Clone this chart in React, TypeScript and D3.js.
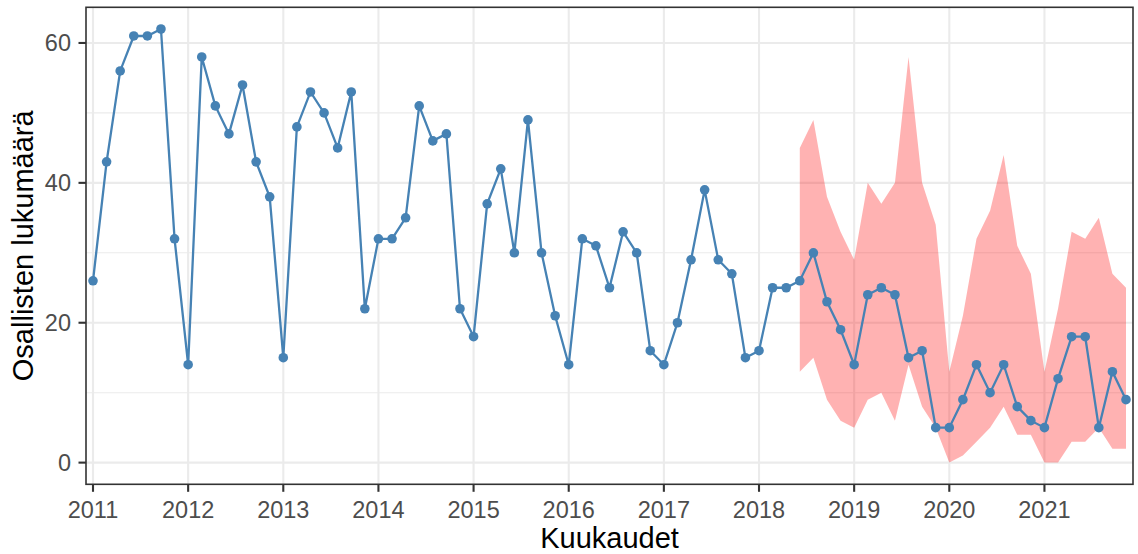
import React from "react";
import * as d3 from "d3";

// Observations: 7 per year, 2011 .. 2021 (77 points)
const startYear = 2011;
const perYear = 7;
const values: number[] = [
  26, 43, 56, 61, 61, 62, 32,
  14, 58, 51, 47, 54, 43, 38,
  15, 48, 53, 50, 45, 53, 22,
  32, 32, 35, 51, 46, 47, 22,
  18, 37, 42, 30, 49, 30, 21,
  14, 32, 31, 25, 33, 30, 16,
  14, 20, 29, 39, 29, 27, 15,
  16, 25, 25, 26, 30, 23, 19,
  14, 24, 25, 24, 15, 16, 5,
  5, 9, 14, 10, 14, 8, 6,
  5, 12, 18, 18, 5, 13, 9,
];
// Prediction interval starts at observation index 52
const ribbonStart = 52;
const ribbonUpper: number[] = [45, 49, 38, 33, 29, 40, 37, 40, 58, 40, 34, 13, 21, 32, 36, 44, 31, 27, 13, 22, 33, 32, 35, 27, 25];
const ribbonLower: number[] = [13, 15, 9, 6, 5, 9, 10, 6, 14, 8, 5, 0, 1, 3, 5, 8, 4, 4, 0, 0, 3, 3, 5, 2, 2];

const yearTicks: number[] = [2011, 2012, 2013, 2014, 2015, 2016, 2017, 2018, 2019, 2020, 2021];
const yTicks: number[] = [0, 20, 40, 60];
const yMinor: number[] = [10, 30, 50];

const xTitle = "Kuukaudet";
const yTitle = "Osallisten lukumäärä";

const W = 1138;
const H = 554;
const panel = { left: 86, right: 1133, top: 7.3, bottom: 484.3 };

export default function App() {
  const times = values.map((_, i) => startYear + i / perYear);
  const tEnd = times[times.length - 1];
  const pad = 0.0736;
  const x = d3.scaleLinear().domain([startYear - pad, tEnd + pad]).range([panel.left, panel.right]);
  const yMax = d3.max(values)!;
  const yPad = yMax * 0.05;
  const y = d3.scaleLinear().domain([-yPad, yMax + yPad]).range([panel.bottom, panel.top]);

  const pts = values.map((v, i) => ({ t: times[i], v }));
  const ribbon = ribbonUpper.map((u, k) => ({ t: times[ribbonStart + k], u, l: ribbonLower[k] }));

  const line = d3.line<{ t: number; v: number }>().x((d) => x(d.t)).y((d) => y(d.v));
  const area = d3
    .area<{ t: number; u: number; l: number }>()
    .x((d) => x(d.t))
    .y0((d) => y(d.l))
    .y1((d) => y(d.u));

  const grid = "#EBEBEB";
  const dark = "#333333";
  const blue = "#4682B4";
  const font = "'Liberation Sans', Arial, sans-serif";

  return (
    <div style={{ position: "fixed", left: 0, top: 0 }}>
      <svg width={W} height={H} style={{ display: "block", background: "#fff" }}>
        <rect x={0} y={0} width={W} height={H} fill="#fff" />
        {/* minor grid */}
        {yMinor.map((v) => (
          <line key={"m" + v} x1={panel.left} x2={panel.right} y1={y(v)} y2={y(v)} stroke={grid} strokeWidth={1.1} />
        ))}
        {/* major grid */}
        {yTicks.map((v) => (
          <line key={"g" + v} x1={panel.left} x2={panel.right} y1={y(v)} y2={y(v)} stroke={grid} strokeWidth={2.1} />
        ))}
        {yearTicks.map((t) => (
          <line key={"gx" + t} x1={x(t)} x2={x(t)} y1={panel.top} y2={panel.bottom} stroke={grid} strokeWidth={2.1} />
        ))}
        {/* ribbon */}
        <path d={area(ribbon)!} fill="#FF0000" fillOpacity={0.3} stroke="none" />
        {/* line */}
        <path d={line(pts)!} fill="none" stroke={blue} strokeWidth={2.3} />
        {pts.map((p, i) => (
          <circle key={i} cx={x(p.t)} cy={y(p.v)} r={4.8} fill={blue} />
        ))}
        {/* border */}
        <rect
          x={panel.left}
          y={panel.top}
          width={panel.right - panel.left}
          height={panel.bottom - panel.top}
          fill="none"
          stroke={dark}
          strokeWidth={1.6}
        />
        {/* y ticks */}
        {yTicks.map((v) => (
          <g key={"yt" + v}>
            <line x1={panel.left - 7.5} x2={panel.left} y1={y(v)} y2={y(v)} stroke={dark} strokeWidth={2.1} />
            <text
              x={71}
              y={y(v) + 8.3}
              textAnchor="end"
              fontFamily={font}
              fontSize={23.5}
              fill="#4D4D4D"
            >
              {v}
            </text>
          </g>
        ))}
        {/* x ticks */}
        {yearTicks.map((t) => (
          <g key={"xt" + t}>
            <line x1={x(t)} x2={x(t)} y1={panel.bottom} y2={panel.bottom + 7.5} stroke={dark} strokeWidth={2.1} />
            <text x={x(t)} y={518} textAnchor="middle" fontFamily={font} fontSize={23.5} fill="#4D4D4D">
              {t}
            </text>
          </g>
        ))}
        {/* titles */}
        <text x={(panel.left + panel.right) / 2} y={548} textAnchor="middle" fontFamily={font} fontSize={29} fill="#000">
          {xTitle}
        </text>
        <text
          transform={`translate(33,${(panel.top + panel.bottom) / 2}) rotate(-90)`}
          textAnchor="middle"
          fontFamily={font}
          fontSize={29}
          fill="#000"
        >
          {yTitle}
        </text>
      </svg>
    </div>
  );
}
